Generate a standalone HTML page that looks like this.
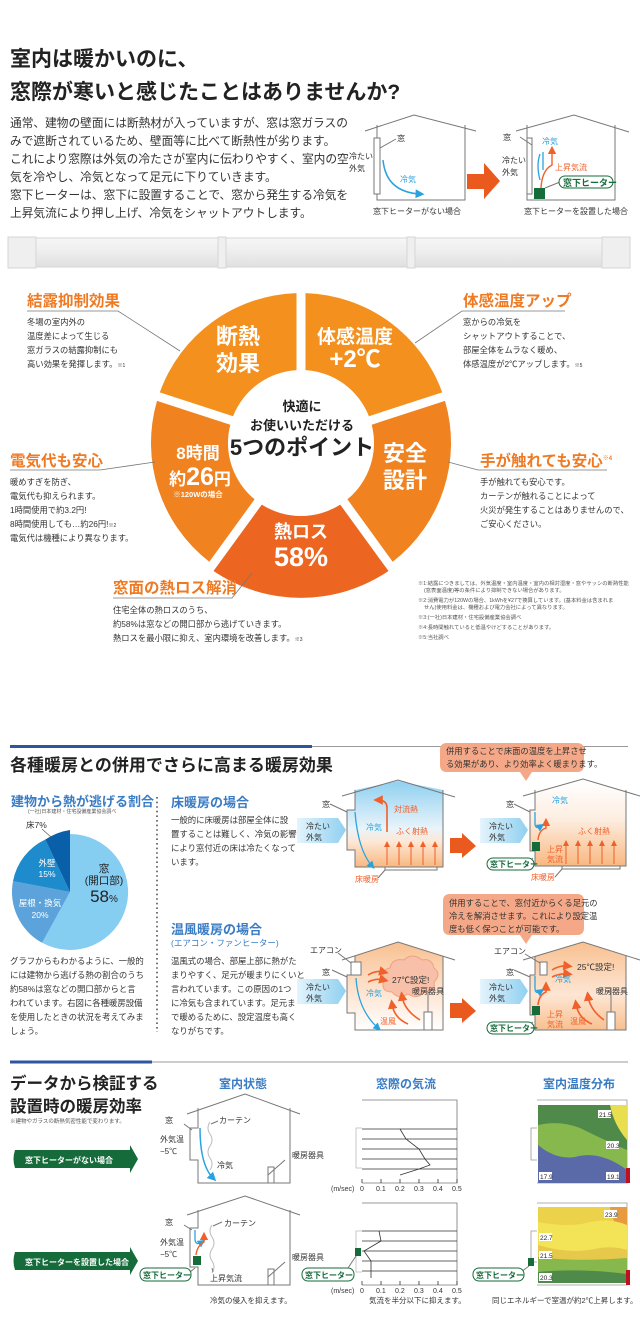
<!DOCTYPE html>
<html><head><meta charset="utf-8"><style>
html,body{margin:0;padding:0;background:#fff;}
svg{display:block}
text{font-family:"Liberation Sans","Noto Sans CJK JP",sans-serif;}
.b{font-weight:bold}
</style></head><body>
<svg width="640" height="1327" viewBox="0 0 640 1327" xmlns="http://www.w3.org/2000/svg">
<defs>
<linearGradient id="bar" x1="0" y1="0" x2="0" y2="1"><stop offset="0" stop-color="#f7f7f7"/><stop offset="0.5" stop-color="#ededed"/><stop offset="1" stop-color="#e0e0e0"/></linearGradient>
<linearGradient id="room1" x1="0" y1="0" x2="0" y2="1"><stop offset="0" stop-color="#8fd0f0"/><stop offset="0.55" stop-color="#e8f4fb"/><stop offset="0.7" stop-color="#fde8d6"/><stop offset="1" stop-color="#f8b880"/></linearGradient>
<linearGradient id="room2" x1="0" y1="0" x2="0" y2="1"><stop offset="0" stop-color="#fff"/><stop offset="0.45" stop-color="#fdeee2"/><stop offset="1" stop-color="#f8b880"/></linearGradient>
<linearGradient id="room3" x1="0" y1="0" x2="0" y2="1"><stop offset="0" stop-color="#f8c090"/><stop offset="0.6" stop-color="#fde6d4"/><stop offset="1" stop-color="#fff"/></linearGradient>
<linearGradient id="room4" x1="0" y1="0" x2="0" y2="1"><stop offset="0" stop-color="#f8c090"/><stop offset="0.6" stop-color="#fde6d4"/><stop offset="1" stop-color="#f8c090"/></linearGradient>
<linearGradient id="cold" x1="0" y1="0" x2="1" y2="0"><stop offset="0" stop-color="#e4f4fc"/><stop offset="1" stop-color="#8fd0f0"/></linearGradient>
<marker id="ab" markerWidth="6" markerHeight="6" refX="3" refY="3" orient="auto"><path d="M0,0 L6,3 L0,6z" fill="#29a3e0"/></marker>
<marker id="ao" markerWidth="6" markerHeight="6" refX="3" refY="3" orient="auto"><path d="M0,0 L6,3 L0,6z" fill="#f0602a"/></marker>
</defs>

<!-- Section 1 -->
<text x="10" y="66" font-size="21" class="b" fill="#222">室内は暖かいのに、</text>
<text x="10" y="99" font-size="21" class="b" fill="#222">窓際が寒いと感じたことはありませんか?</text>
<g font-size="11.7" fill="#333">
<text x="10" y="127">通常、建物の壁面には断熱材が入っていますが、窓は窓ガラスの</text>
<text x="10" y="145">みで遮断されているため、壁面等に比べて断熱性が劣ります。</text>
<text x="10" y="163">これにより窓際は外気の冷たさが室内に伝わりやすく、室内の空</text>
<text x="10" y="181">気を冷やし、冷気となって足元に下りていきます。</text>
<text x="10" y="199">窓下ヒーターは、窓下に設置することで、窓から発生する冷気を</text>
<text x="10" y="217">上昇気流により押し上げ、冷気をシャットアウトします。</text>
</g>
<g fill="none" stroke="#777" stroke-width="1">
<polyline points="365,131 414,115 476,131"/>
<polyline points="377,125 377,200 465,200 465,125"/>
<rect x="374" y="138" width="6" height="56" fill="#fff"/>
<line x1="380" y1="148" x2="396" y2="139"/>
<polyline points="516,131 574,115 629,132"/>
<polyline points="527,125 527,200 615,200 615,125"/>
<rect x="527" y="138" width="5" height="56" fill="#fff"/>
<line x1="532" y1="145" x2="520" y2="137"/>
<line x1="545" y1="188" x2="560" y2="182"/>
</g>
<path d="M383,160 Q386,192 420,194" fill="none" stroke="#29a3e0" stroke-width="1.5" marker-end="url(#ab)"/>
<path d="M540,180 Q536,165 540,154 M543,170 L543,152" fill="none" stroke="#29a3e0" stroke-width="1.3"/>
<path d="M541,188 Q542,170 552,165 L552,150" fill="none" stroke="#f0602a" stroke-width="1.4" marker-end="url(#ao)"/>
<rect x="534" y="188" width="11" height="11" fill="#156b3a"/>
<rect x="559" y="176" width="54" height="12" rx="6" fill="#fff" stroke="#156b3a"/>
<text x="563" y="186" font-size="9" class="b" fill="#156b3a">窓下ヒーター</text>
<g font-size="8" fill="#333">
<text x="397" y="141">窓</text><text x="503" y="140">窓</text>
<text x="349" y="159">冷たい</text><text x="349" y="171">外気</text>
<text x="502" y="163">冷たい</text><text x="502" y="175">外気</text>
<text x="373" y="214">窓下ヒーターがない場合</text>
<text x="524" y="214">窓下ヒーターを設置した場合</text>
</g>
<text x="400" y="182" font-size="8" fill="#29a3e0">冷気</text>
<text x="542" y="144" font-size="8" fill="#29a3e0">冷気</text>
<text x="555" y="170" font-size="8" fill="#f0602a">上昇気流</text>
<path d="M467,174 L484,174 L484,163 L500,181 L484,199 L484,189 L467,189z" fill="#ea5a1e"/>
<rect x="8" y="238" width="622" height="29" fill="url(#bar)" stroke="#d6d6d6"/>
<rect x="8" y="237" width="28" height="31" fill="#efefef" stroke="#d6d6d6"/>
<rect x="602" y="237" width="28" height="31" fill="#efefef" stroke="#d6d6d6"/>
<rect x="218" y="237" width="8" height="31" fill="#efefef" stroke="#d6d6d6"/>
<rect x="407" y="237" width="8" height="31" fill="#efefef" stroke="#d6d6d6"/>

<!-- Donut -->
<path d="M305.5,293.1 A150,150 0 0 1 442.2,392.4 L368.9,416.2 A73,73 0 0 0 305.5,370.1Z" fill="#f3901e"/>
<path d="M445.0,400.9 A150,150 0 0 1 392.7,561.7 L347.4,499.3 A73,73 0 0 0 371.7,424.7Z" fill="#f08220"/>
<path d="M388.5,571 A156,156 0 0 1 213.5,571 L261.8,504.6 A73,73 0 0 0 340.2,504.6Z" fill="#ec6622"/>
<path d="M209.3,561.7 A150,150 0 0 1 157.0,400.9 L230.3,424.7 A73,73 0 0 0 254.6,499.3Z" fill="#f08220"/>
<path d="M159.8,392.4 A150,150 0 0 1 296.5,293.1 L296.5,370.1 A73,73 0 0 0 233.1,416.2Z" fill="#f3901e"/>
<g fill="#fff" class="b" text-anchor="middle">
<text x="238" y="344" font-size="22">断熱</text><text x="238" y="371" font-size="22">効果</text>
<text x="355" y="343" font-size="19">体感温度</text><text x="355" y="367" font-size="24">+2℃</text>
<text x="405" y="461" font-size="22">安全</text><text x="405" y="488" font-size="22">設計</text>
<text x="301" y="538" font-size="18">熱ロス</text><text x="301" y="566" font-size="27">58%</text>
<text x="198" y="459" font-size="17">8時間</text><text x="200" y="485" font-size="17">約<tspan font-size="25">26</tspan>円</text>
<text x="198" y="497" font-size="7.5">※120Wの場合</text>
</g>
<g fill="#222" class="b" text-anchor="middle">
<text x="302" y="411" font-size="13">快適に</text>
<text x="302" y="430" font-size="13">お使いいただける</text>
<text x="302" y="455" font-size="22">5つのポイント</text>
</g>
<g fill="none" stroke="#777" stroke-width="0.8">
<polyline points="27,311 118,311 180,351"/>
<polyline points="565,311 462,311 415,343"/>
<polyline points="10,470 100,470 155,462"/>
<polyline points="607,470 478,470 448,462"/>
<polyline points="113,598 232,598 252,573"/>
</g>
<g fill="#ee7a24" class="b" font-size="15.5">
<text x="27" y="306">結露抑制効果</text>
<text x="463" y="306">体感温度アップ</text>
<text x="10" y="466">電気代も安心</text>
<text x="480" y="466">手が触れても安心<tspan font-size="6" dy="-6">※4</tspan></text>
<text x="113" y="593">窓面の熱ロス解消</text>
</g>
<g fill="#333" font-size="8.3">
<text x="27" y="325">冬場の室内外の</text><text x="27" y="339">温度差によって生じる</text><text x="27" y="353">窓ガラスの結露抑制にも</text><text x="27" y="367">高い効果を発揮します。<tspan font-size="5">※1</tspan></text>
<text x="463" y="325">窓からの冷気を</text><text x="463" y="339">シャットアウトすることで、</text><text x="463" y="353">部屋全体をムラなく暖め、</text><text x="463" y="367">体感温度が2℃アップします。<tspan font-size="5">※5</tspan></text>
<text x="10" y="485">暖めすぎを防ぎ、</text><text x="10" y="499">電気代も抑えられます。</text><text x="10" y="513">1時間使用で約3.2円!</text><text x="10" y="527">8時間使用しても…約26円!<tspan font-size="5">※2</tspan></text><text x="10" y="541">電気代は機種により異なります。</text>
<text x="480" y="485">手が触れても安心です。</text><text x="480" y="499">カーテンが触れることによって</text><text x="480" y="513">火災が発生することはありませんので、</text><text x="480" y="527">ご安心ください。</text>
<text x="113" y="613">住宅全体の熱ロスのうち、</text><text x="113" y="627">約58%は窓などの開口部から逃げていきます。</text><text x="113" y="641">熱ロスを最小限に抑え、室内環境を改善します。<tspan font-size="5">※3</tspan></text>
</g>
<g fill="#555" font-size="5.3">
<text x="418" y="585">※1:結露につきましては、外気温度・室内温度・室内の相対湿度・窓やサッシの断熱性能</text>
<text x="424" y="592">(窓表面温度)等の条件により抑制できない場合があります。</text>
<text x="418" y="602">※2:消費電力が120Wの場合、1kWhを¥27で換算しています。(基本料金は含まれま</text>
<text x="424" y="609">せん)使用料金は、機種および電力会社によって異なります。</text>
<text x="418" y="619">※3:(一社)日本建材・住宅設備産業協会調べ</text>
<text x="418" y="629">※4:長時間触れていると低温やけどすることがあります。</text>
<text x="418" y="639">※5:当社調べ</text>
</g>

<!-- Section 2 -->
<line x1="10" y1="746.5" x2="312" y2="746.5" stroke="#2d55a0" stroke-width="3"/>
<line x1="312" y1="746.5" x2="628" y2="746.5" stroke="#999" stroke-width="1"/>
<text x="10" y="771" font-size="17" class="b" fill="#222">各種暖房との併用でさらに高まる暖房効果</text>
<path d="M447,743 H577 Q584,743 584,750 V765 Q584,772 577,772 H532 L526,781 L520,772 H447 Q440,772 440,765 V750 Q440,743 447,743Z" fill="#f5a887"/>
<text x="446" y="754" font-size="8.3" fill="#333">併用することで床面の温度を上昇させ</text>
<text x="446" y="767" font-size="8.3" fill="#333">る効果があり、より効率よく暖まります。</text>
<text x="11" y="806" font-size="13" class="b" fill="#3a7cc4">建物から熱が逃げる割合</text>
<text x="28" y="813" font-size="5" fill="#555">(一社)日本建材・住宅設備産業協会調べ</text>
<path d="M70,892 L70,834 A58,58 0 1 1 42.1,942.8Z" fill="#86cdf2"/>
<path d="M70,892 L42.1,942.8 A58,58 0 0 1 13.0,881.1Z" fill="#5ba3da"/>
<path d="M70,892 L13.0,881.1 A58,58 0 0 1 45.3,839.5Z" fill="#1e8ccc"/>
<path d="M70,892 L45.3,839.5 A62,62 0 0 1 70,830Z" fill="#0a60a8"/>
<line x1="52" y1="838" x2="42" y2="829" stroke="#555" stroke-width="0.7"/>
<text x="26" y="828" font-size="8.5" fill="#333">床7%</text>
<g fill="#fff" font-size="8.5" text-anchor="middle"><text x="47" y="866">外壁</text><text x="47" y="877">15%</text><text x="40" y="906">屋根・換気</text><text x="40" y="918">20%</text></g>
<g fill="#222" text-anchor="middle"><text x="104" y="872" font-size="10.5">窓</text><text x="104" y="884" font-size="10.5">(開口部)</text><text x="104" y="902" font-size="17">58<tspan font-size="10">%</tspan></text></g>
<g fill="#333" font-size="8.4">
<text x="10" y="964">グラフからもわかるように、一般的</text><text x="10" y="978">には建物から逃げる熱の割合のうち</text><text x="10" y="992">約58%は窓などの開口部からと言</text><text x="10" y="1006">われています。右図に各種暖房設備</text><text x="10" y="1020">を使用したときの状況を考えてみま</text><text x="10" y="1034">しょう。</text>
</g>
<line x1="157" y1="797" x2="157" y2="1032" stroke="#555" stroke-width="1.6" stroke-dasharray="1.6,3"/>
<text x="171" y="807" font-size="13" class="b" fill="#3a7cc4">床暖房の場合</text>
<g fill="#333" font-size="8.4"><text x="171" y="823">一般的に床暖房は部屋全体に設</text><text x="171" y="837">置することは難しく、冷気の影響</text><text x="171" y="851">により窓付近の床は冷たくなって</text><text x="171" y="865">います。</text></g>
<text x="171" y="934" font-size="13" class="b" fill="#3a7cc4">温風暖房の場合</text>
<text x="171" y="946" font-size="8.5" fill="#3a7cc4">(エアコン・ファンヒーター)</text>
<g fill="#333" font-size="8.4"><text x="171" y="964">温風式の場合、部屋上部に熱がた</text><text x="171" y="978">まりやすく、足元が暖まりにくいと</text><text x="171" y="992">言われています。この原因の1つ</text><text x="171" y="1006">に冷気も含まれています。足元ま</text><text x="171" y="1020">で暖めるために、設定温度も高く</text><text x="171" y="1034">なりがちです。</text></g>

<!-- row1 houses -->
<path d="M355,790 L398,781 L443,790 V867 H355 V850 H347 V810 H355Z" fill="url(#room1)"/>
<g fill="none" stroke="#777"><polyline points="342,796 398,780 455,797"/><path d="M355,790 V810 H347 V850 H355 V867 H443 V790"/><polyline points="385,867 385,870 437,870 437,867"/><line x1="347" y1="812" x2="330" y2="804"/><line x1="385" y1="870" x2="378" y2="878"/></g>
<path d="M355,812 Q358,850 372,866" fill="none" stroke="#29a3e0" stroke-width="1.3" marker-end="url(#ab)"/>
<path d="M387,832 V808 Q387,800 378,800" fill="none" stroke="#f0602a" stroke-width="1.6" marker-end="url(#ao)"/>
<g stroke="#f0602a" stroke-width="1" marker-end="url(#ao)"><line x1="387" y1="865" x2="387" y2="844"/><line x1="399" y1="865" x2="399" y2="844"/><line x1="411" y1="865" x2="411" y2="844"/><line x1="423" y1="865" x2="423" y2="844"/><line x1="435" y1="865" x2="435" y2="844"/></g>
<path d="M297,818 H338 L346,830 L338,843 H297Z" fill="url(#cold)"/>
<text x="306" y="829" font-size="8" fill="#333">冷たい</text><text x="306" y="840" font-size="8" fill="#333">外気</text>
<text x="322" y="807" font-size="8" fill="#333">窓</text>
<text x="366" y="830" font-size="8" fill="#29a3e0">冷気</text>
<text x="394" y="812" font-size="8" fill="#f0602a">対流熱</text>
<text x="396" y="834" font-size="8" fill="#f0602a">ふく射熱</text>
<text x="355" y="882" font-size="8" fill="#f0602a">床暖房</text>
<path d="M450,838 H462 V833 L476,846 L462,858 V853 H450Z" fill="#ea5a1e"/>
<path d="M535,790 L583,780 L626,790 V866 H535 V851 H530 V810 H535Z" fill="url(#room2)"/>
<g fill="none" stroke="#777"><polyline points="523,796 583,779 640,796"/><path d="M535,790 V810 H530 V851 H535 V866 H626 V790"/><polyline points="562,866 562,869 620,869 620,866"/><line x1="530" y1="812" x2="514" y2="804"/><line x1="562" y1="869" x2="555" y2="877"/><line x1="533" y1="858" x2="523" y2="865"/></g>
<rect x="532" y="842" width="8" height="9" fill="#156b3a"/>
<path d="M535,812 V823 Q535,830 541,826" fill="none" stroke="#29a3e0" stroke-width="1.3" marker-end="url(#ab)"/>
<path d="M538,840 Q539,830 546,828 L546,822" fill="none" stroke="#f0602a" stroke-width="1.4" marker-end="url(#ao)"/>
<g stroke="#f0602a" stroke-width="1" marker-end="url(#ao)"><line x1="566" y1="864" x2="566" y2="843"/><line x1="578" y1="864" x2="578" y2="843"/><line x1="590" y1="864" x2="590" y2="843"/><line x1="602" y1="864" x2="602" y2="843"/><line x1="614" y1="864" x2="614" y2="843"/></g>
<path d="M480,818 H520 L528,830 L520,843 H480Z" fill="url(#cold)"/>
<text x="489" y="829" font-size="8" fill="#333">冷たい</text><text x="489" y="840" font-size="8" fill="#333">外気</text>
<text x="506" y="807" font-size="8" fill="#333">窓</text>
<text x="552" y="803" font-size="8" fill="#29a3e0">冷気</text>
<text x="578" y="834" font-size="8" fill="#f0602a">ふく射熱</text>
<text x="547" y="852" font-size="8" fill="#f0602a">上昇</text><text x="547" y="862" font-size="8" fill="#f0602a">気流</text>
<text x="531" y="880" font-size="8" fill="#f0602a">床暖房</text>
<rect x="487" y="858" width="47" height="12" rx="6" fill="#fff" stroke="#156b3a"/>
<text x="490" y="867" font-size="8" class="b" fill="#156b3a">窓下ヒーター</text>

<!-- bubble 2 -->
<path d="M450,894 H577 Q584,894 584,901 V928 Q584,935 577,935 H532 L526,944 L520,935 H450 Q443,935 443,928 V901 Q443,894 450,894Z" fill="#f5a887"/>
<g font-size="8.3" fill="#333"><text x="449" y="906">併用することで、窓付近からくる足元の</text><text x="449" y="919">冷えを解消させます。これにより設定温</text><text x="449" y="932">度も低く保つことが可能です。</text></g>
<!-- row2 houses -->
<path d="M355,956 L398,942 L443,956 V1030 H355 V1013 H347 V975 H355Z" fill="url(#room3)"/>
<g fill="none" stroke="#777"><polyline points="342,960 398,942 455,960"/><path d="M355,956 V975 H347 V1013 H355 V1030 H443 V956"/><rect x="351" y="962" width="10" height="13" fill="#fff"/><line x1="351" y1="963" x2="338" y2="953"/><line x1="347" y1="977" x2="332" y2="970"/><rect x="424" y="1012" width="8" height="18" fill="#fff"/><line x1="428" y1="1012" x2="428" y2="988"/></g>
<path d="M384,980 q-4,-10 6,-12 q2,-10 14,-8 q8,-8 18,0 q10,-2 12,8 q8,6 0,14 q2,10 -10,10 q-6,8 -16,2 q-10,6 -16,-2 q-12,0 -8,-12Z" fill="#f8c0a8" stroke="#f0a080"/>
<text x="392" y="983" font-size="8.5" fill="#333">27℃設定!</text>
<path d="M356,978 Q358,1010 378,1028" fill="none" stroke="#29a3e0" stroke-width="1.3" marker-end="url(#ab)"/>
<g fill="none" stroke="#f0602a" stroke-width="1.6" marker-end="url(#ao)"><path d="M368,975 Q376,970 384,972"/><path d="M368,982 Q376,978 384,980"/><path d="M420,1020 Q404,1010 402,996"/><path d="M408,1024 Q394,1018 392,1004"/></g>
<path d="M297,979 H338 L346,991 L338,1004 H297Z" fill="url(#cold)"/>
<text x="306" y="990" font-size="8" fill="#333">冷たい</text><text x="306" y="1001" font-size="8" fill="#333">外気</text>
<text x="310" y="953" font-size="8" fill="#333">エアコン</text><text x="322" y="975" font-size="8" fill="#333">窓</text>
<text x="366" y="996" font-size="8" fill="#29a3e0">冷気</text>
<text x="412" y="994" font-size="8" fill="#333">暖房器具</text>
<text x="380" y="1024" font-size="8" fill="#f0602a">温風</text>
<path d="M450,1003 H462 V998 L476,1011 L462,1023 V1018 H450Z" fill="#ea5a1e"/>
<path d="M535,956 L583,942 L626,956 V1030 H535 V1015 H530 V975 H535Z" fill="url(#room4)"/>
<g fill="none" stroke="#777"><polyline points="523,960 583,942 640,960"/><path d="M535,956 V975 H530 V1015 H535 V1030 H626 V956"/><rect x="540" y="962" width="7" height="13" fill="#fff"/><line x1="540" y1="963" x2="525" y2="954"/><line x1="530" y1="977" x2="514" y2="970"/><rect x="607" y="1012" width="8" height="18" fill="#fff"/><line x1="611" y1="1012" x2="611" y2="988"/><line x1="533" y1="1022" x2="523" y2="1028"/></g>
<rect x="532" y="1006" width="8" height="9" fill="#156b3a"/>
<g fill="none" stroke="#f0602a" stroke-width="1.6" marker-end="url(#ao)"><path d="M552,970 Q560,965 568,966"/><path d="M552,977 Q560,973 568,974"/><path d="M604,1020 Q590,1010 588,996"/><path d="M592,1024 Q578,1018 576,1004"/><path d="M538,1005 Q539,995 546,992 L546,986"/></g>
<path d="M535,976 V988 Q535,995 541,991" fill="none" stroke="#29a3e0" stroke-width="1.3" marker-end="url(#ab)"/>
<path d="M480,979 H520 L528,991 L520,1004 H480Z" fill="url(#cold)"/>
<text x="489" y="990" font-size="8" fill="#333">冷たい</text><text x="489" y="1001" font-size="8" fill="#333">外気</text>
<text x="494" y="954" font-size="8" fill="#333">エアコン</text><text x="506" y="975" font-size="8" fill="#333">窓</text>
<text x="555" y="982" font-size="8" fill="#29a3e0">冷気</text>
<text x="577" y="970" font-size="8.5" fill="#333">25℃設定!</text>
<text x="596" y="994" font-size="8" fill="#333">暖房器具</text>
<text x="547" y="1017" font-size="8" fill="#f0602a">上昇</text><text x="547" y="1027" font-size="8" fill="#f0602a">気流</text>
<text x="570" y="1024" font-size="8" fill="#f0602a">温風</text>
<rect x="487" y="1022" width="47" height="12" rx="6" fill="#fff" stroke="#156b3a"/>
<text x="490" y="1031" font-size="8" class="b" fill="#156b3a">窓下ヒーター</text>

<!-- Section 3 -->
<line x1="10" y1="1062" x2="152" y2="1062" stroke="#2d55a0" stroke-width="3"/>
<line x1="152" y1="1062" x2="628" y2="1062" stroke="#999"/>
<text x="10" y="1089" font-size="16.5" class="b" fill="#222">データから検証する</text>
<text x="10" y="1112" font-size="16.5" class="b" fill="#222">設置時の暖房効率</text>
<text x="10" y="1123" font-size="5.5" fill="#555">※建物やガラスの断熱気密性能で変わります。</text>
<g font-size="12" class="b" fill="#3a7cc4"><text x="219" y="1088">室内状態</text><text x="376" y="1088">窓際の気流</text><text x="543" y="1088">室内温度分布</text></g>
<path d="M15,1150 H130 V1145 L138,1159 L130,1173 V1168 H15 Q12,1159 15,1150Z" fill="#156b3a"/>
<text x="25" y="1163" font-size="8" class="b" fill="#fff">窓下ヒーターがない場合</text>
<path d="M15,1252 H130 V1247 L138,1261 L130,1275 V1270 H15 Q12,1261 15,1252Z" fill="#156b3a"/>
<text x="25" y="1265" font-size="8" class="b" fill="#fff">窓下ヒーターを設置した場合</text>
<!-- house A -->
<g fill="none" stroke="#777"><polyline points="187,1114 245,1094 300,1114"/><path d="M198,1108 V1128 H190 V1160 H198 V1183 H290 V1108"/><rect x="268" y="1167" width="6" height="16"/><line x1="268" y1="1175" x2="285" y2="1160"/><path d="M210,1122 q-4,6 0,12 q4,6 0,12 q-4,6 0,12 q4,6 0,12" stroke="#bbb"/><line x1="211" y1="1124" x2="218" y2="1121"/><line x1="192" y1="1130" x2="184" y2="1124"/></g>
<path d="M200,1128 Q200,1165 213,1178" fill="none" stroke="#29a3e0" stroke-width="1.5" marker-end="url(#ab)"/>
<g font-size="8" fill="#333"><text x="165" y="1123">窓</text><text x="219" y="1123">カーテン</text><text x="160" y="1142">外気温</text><text x="160" y="1154">−5℃</text><text x="217" y="1168">冷気</text><text x="292" y="1158">暖房器具</text></g>
<!-- house B -->
<g fill="none" stroke="#777"><polyline points="187,1215 245,1196 300,1215"/><path d="M198,1210 V1228 H190 V1267 H198 V1285 H290 V1210"/><rect x="268" y="1269" width="6" height="16"/><line x1="268" y1="1277" x2="285" y2="1262"/><path d="M212,1225 q-4,6 0,12 q4,6 0,12 q-4,6 0,12 q4,6 0,12" stroke="#bbb"/><line x1="213" y1="1226" x2="222" y2="1222"/><line x1="192" y1="1230" x2="184" y2="1225"/><line x1="212" y1="1268" x2="213" y2="1272"/><line x1="195" y1="1268" x2="185" y2="1276"/></g>
<rect x="193" y="1256" width="8" height="9" fill="#156b3a"/>
<path d="M195,1230 V1240 Q196,1246 202,1242" fill="none" stroke="#29a3e0" stroke-width="1.3" marker-end="url(#ab)"/>
<path d="M196,1255 Q197,1246 204,1242 V1236" fill="none" stroke="#f0602a" stroke-width="1.4" marker-end="url(#ao)"/>
<g font-size="8" fill="#333"><text x="165" y="1225">窓</text><text x="224" y="1226">カーテン</text><text x="160" y="1245">外気温</text><text x="160" y="1257">−5℃</text><text x="210" y="1281">上昇気流</text><text x="292" y="1260">暖房器具</text></g>
<rect x="140" y="1268" width="51" height="13" rx="6" fill="#fff" stroke="#156b3a"/>
<text x="143" y="1278" font-size="8" class="b" fill="#156b3a">窓下ヒーター</text>
<!-- charts -->
<g fill="none" stroke="#777" stroke-width="0.8">
<path d="M362,1100 H457 V1183 H362"/><path d="M362,1128 H356 V1168 H362" stroke="#bbb"/>
<path d="M362,1203 H457 V1285 H362"/><path d="M362,1231 H356 V1272 H362" stroke="#bbb"/>
</g>
<g stroke="#333" stroke-width="0.8">
<line x1="362" y1="1129" x2="457" y2="1129"/><line x1="362" y1="1139" x2="457" y2="1139"/><line x1="362" y1="1149" x2="457" y2="1149"/><line x1="362" y1="1159" x2="457" y2="1159"/><line x1="362" y1="1169" x2="457" y2="1169"/>
<line x1="362" y1="1231" x2="457" y2="1231"/><line x1="362" y1="1241" x2="457" y2="1241"/><line x1="362" y1="1251" x2="457" y2="1251"/><line x1="362" y1="1261" x2="457" y2="1261"/><line x1="362" y1="1271" x2="457" y2="1271"/>
<path d="M362,1183 V1179 M381,1183 V1179 M400,1183 V1179 M419,1183 V1179 M438,1183 V1179 M457,1183 V1179"/>
<path d="M362,1285 V1281 M381,1285 V1281 M400,1285 V1281 M419,1285 V1281 M438,1285 V1281 M457,1285 V1281"/>
</g>
<polyline points="400,1129 406,1139 419,1149 425,1159 430,1165 419,1169 400,1175" fill="none" stroke="#333" stroke-width="0.8"/>
<polyline points="379,1231 381,1241 364,1251 371,1261 371,1271 371,1278" fill="none" stroke="#333" stroke-width="0.8"/>
<g font-size="7" fill="#333"><text x="331" y="1191">(m/sec)</text><text x="360" y="1191">0</text><text x="376" y="1191">0.1</text><text x="395" y="1191">0.2</text><text x="414" y="1191">0.3</text><text x="433" y="1191">0.4</text><text x="452" y="1191">0.5</text>
<text x="331" y="1293">(m/sec)</text><text x="360" y="1293">0</text><text x="376" y="1293">0.1</text><text x="395" y="1293">0.2</text><text x="414" y="1293">0.3</text><text x="433" y="1293">0.4</text><text x="452" y="1293">0.5</text></g>
<rect x="302" y="1268" width="52" height="13" rx="6" fill="#fff" stroke="#156b3a"/>
<text x="305" y="1278" font-size="8" class="b" fill="#156b3a">窓下ヒーター</text>
<rect x="355" y="1248" width="6" height="8" fill="#156b3a"/><line x1="356" y1="1256" x2="348" y2="1268" stroke="#777"/>
<!-- temp charts -->
<g fill="none" stroke="#999" stroke-width="0.8"><path d="M537,1100 H627 V1183 H537"/><path d="M537,1128 H531 V1160 H537"/><path d="M537,1203 H627 V1285 H537"/><path d="M537,1231 H531 V1262 H537"/></g>
<rect x="538" y="1105" width="89" height="78" fill="#4f8a4a"/>
<path d="M538,1125 Q560,1120 580,1128 Q600,1138 627,1150 V1183 H538Z" fill="#86b84e"/>
<path d="M538,1145 Q556,1160 575,1157 Q600,1150 627,1170 V1183 H538Z" fill="#5a6aa8"/>
<path d="M610,1105 H627 V1140 Q614,1125 610,1105Z" fill="#e8de50"/>
<rect x="538" y="1207" width="89" height="76" fill="#ecd24a"/>
<path d="M610,1207 H627 V1235 Q612,1225 610,1207Z" fill="#e89a3e"/>
<path d="M538,1222 Q570,1228 590,1222 Q610,1218 627,1225 V1283 H538Z" fill="#f2e456"/>
<path d="M538,1245 Q570,1255 600,1248 Q615,1246 627,1250 V1283 H538Z" fill="#e6c84a"/>
<path d="M538,1257 Q575,1262 627,1258 V1283 H538Z" fill="#86b84e"/>
<path d="M538,1272 Q580,1268 627,1274 V1283 H538Z" fill="#4f8a4a"/>
<g font-size="6.5" fill="#222"><rect x="598" y="1110" width="13" height="8" fill="#fff"/><text x="599" y="1117">21.5</text>
<rect x="606" y="1141" width="13" height="8" fill="#fff"/><text x="607" y="1148">20.3</text>
<rect x="539" y="1172" width="13" height="8" fill="#fff"/><text x="540" y="1179">17.9</text>
<rect x="606" y="1172" width="13" height="8" fill="#fff"/><text x="607" y="1179">19.1</text>
<rect x="604" y="1210" width="13" height="8" fill="#fff"/><text x="605" y="1217">23.9</text>
<rect x="539" y="1233" width="13" height="8" fill="#fff"/><text x="540" y="1240">22.7</text>
<rect x="539" y="1251" width="13" height="8" fill="#fff"/><text x="540" y="1258">21.5</text>
<rect x="539" y="1273" width="13" height="8" fill="#fff"/><text x="540" y="1280">20.3</text></g>
<rect x="626" y="1168" width="4" height="15" fill="#c01020"/><rect x="626" y="1270" width="4" height="15" fill="#c01020"/>
<rect x="528" y="1258" width="6" height="8" fill="#156b3a"/><line x1="529" y1="1266" x2="521" y2="1272" stroke="#777"/>
<rect x="473" y="1268" width="51" height="13" rx="6" fill="#fff" stroke="#156b3a"/>
<text x="476" y="1278" font-size="8" class="b" fill="#156b3a">窓下ヒーター</text>
<g font-size="7.5" fill="#333"><text x="210" y="1303">冷気の侵入を抑えます。</text><text x="369" y="1303">気流を半分以下に抑えます。</text><text x="492" y="1303">同じエネルギーで室温が約2℃上昇します。</text></g>
</svg>
</body></html>
